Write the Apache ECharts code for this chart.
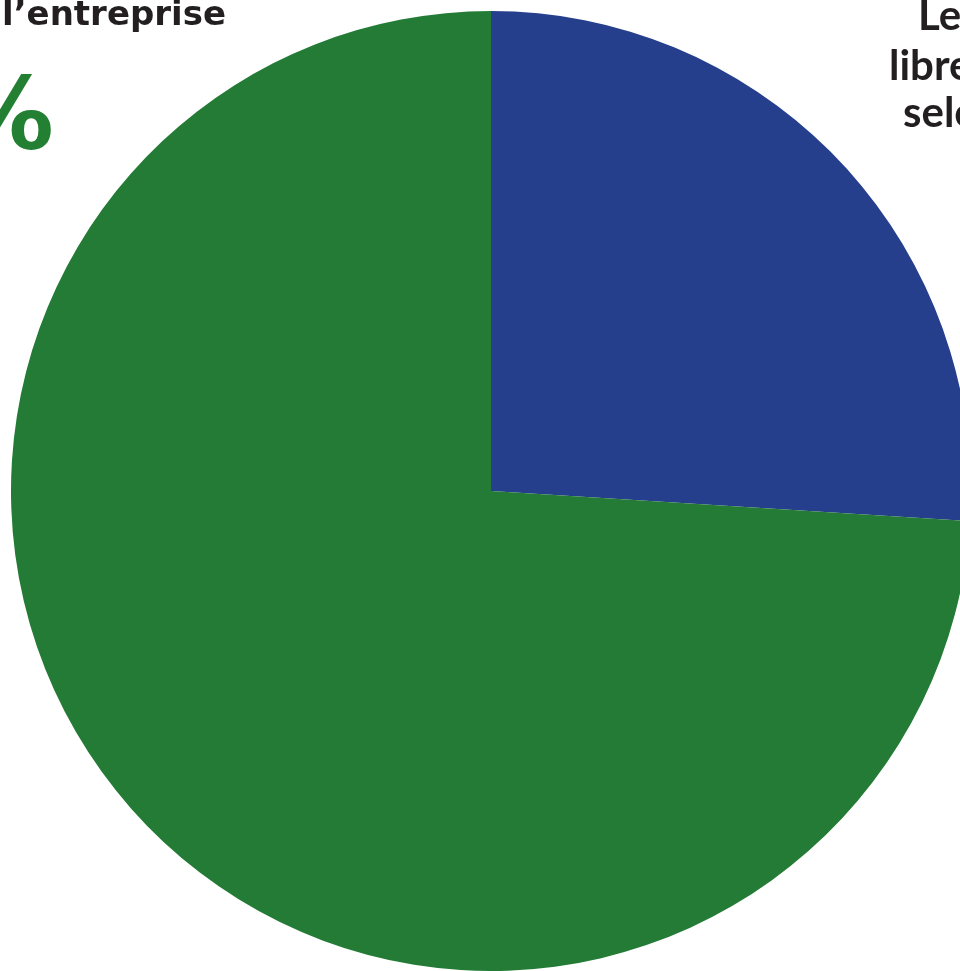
<!DOCTYPE html>
<html>
<head>
<meta charset="utf-8">
<script src="https://cdn.jsdelivr.net/npm/echarts@6/dist/echarts.min.js"></script>
<style>
  html, body {margin: 0; padding: 0; background: #fff;}
  #chart {width: 960px; height: 971px;}
</style>
</head>
<body>
<div id="chart"></div>
<script>
const categories = ['Les logiciels libres', 'de l’entreprise'];
const values = [26, 74];
const colors = ['#263f8d', '#237b35'];

const chart = echarts.init(document.getElementById('chart'));

// labels of the original layout are cut by the frame, so they sit partly outside
const text = (x, y, str, font, fill, align) => ({
    type: 'text',
    x,
    y,
    style: {
        text: str,
        font,
        fill,
        align: align || 'left',
        verticalAlign: 'middle',
    },
});

const wide = size => `bold ${size}px "DejaVu Sans", sans-serif`;
const narrow = size => `bold ${size}px Lato, sans-serif`;

chart.setOption({
    animation: false,
    series: [
        {
            type: 'pie',
            center: [491, 491],
            radius: [0, 480],
            startAngle: 90,
            clockwise: true,
            label: {show: false},
            labelLine: {show: false},
            silent: true,
            data: categories.map((name, i) => ({
                name,
                value: values[i],
                itemStyle: {color: colors[i]},
            })),
        },
    ],
    graphic: [
        text(226, 16, 'de l’entreprise', wide(34), '#231f20', 'right'),
        text(54, 123, '74%', wide(100), '#238033', 'right'),
        text(918, 16, 'Les', narrow(42), '#231f20'),
        text(889, 66, 'libres', narrow(42), '#231f20'),
        text(903, 113, 'selon', narrow(42), '#231f20'),
    ],
});
</script>
</body>
</html>
